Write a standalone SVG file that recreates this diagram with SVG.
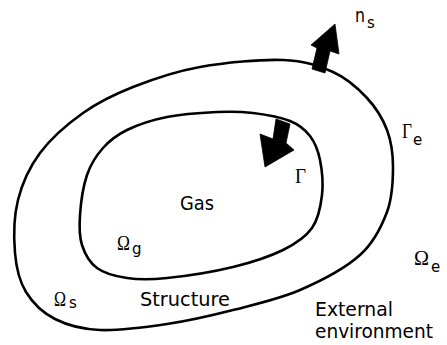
<svg xmlns="http://www.w3.org/2000/svg" width="447" height="345" viewBox="0 0 447 345">
<style>
.curve{fill:none;stroke:#000;stroke-width:2.6;stroke-linejoin:round}
.arrow{fill:#000;stroke:#000;stroke-width:0.8;stroke-linejoin:miter}
.t{font-family:"DejaVu Sans","Liberation Sans",sans-serif;font-size:20px;fill:#000}
.g{font-family:"Liberation Serif","Times New Roman",serif;font-size:21px;fill:#000}
.sub{font-family:"DejaVu Sans","Liberation Sans",sans-serif;font-size:15px;fill:#000}
</style>
<rect width="447" height="345" fill="#fff"/>
<g id="outer-boundary">
<path class="curve" d="M283,60 C305.2,60.8 319,65.7 333,72 C347,78.3 358,88.3 367,98 C376,107.7 382.7,118.5 387,130 C391.3,141.5 393,153.3 393,167 C393,180.7 392.5,197.3 387,212 C381.5,226.7 374.5,242 360,255 C345.5,268 321.2,280.8 300,290 C278.8,299.2 255.2,304.3 233,310 C210.8,315.7 189.2,320.7 167,324 C144.8,327.3 118.7,330.8 100,330 C81.3,329.2 67.3,325.3 55,319 C42.7,312.7 32.7,303 26,292 C19.3,281 16.3,268.3 15,253 C13.7,237.7 13.8,216.7 18,200 C22.2,183.3 29.2,167.5 40,153 C50.8,138.5 67.5,124 83,113 C98.5,102 113.5,94.7 133,87 C152.5,79.3 175,71.5 200,67 C225,62.5 260.8,59.2 283,60 Z"/>
</g>
<g id="inner-boundary">
<path class="curve" d="M253,113 C265.2,114.5 280.5,117.2 290,121 C299.5,124.8 305,129.5 310,136 C315,142.5 318,150.2 320,160 C322,169.8 323.3,183.7 322,195 C320.7,206.3 318.5,218.8 312,228 C305.5,237.2 296.2,243.5 283,250 C269.8,256.5 252.3,262.3 233,267 C213.7,271.7 184.7,276.2 167,278 C149.3,279.8 138.7,279.7 127,278 C115.3,276.3 104.5,273.5 97,268 C89.5,262.5 84.8,253.8 82,245 C79.2,236.2 79.2,226.7 80,215 C80.8,203.3 83.2,186.2 87,175 C90.8,163.8 96.3,155.5 103,148 C109.7,140.5 116.3,135.2 127,130 C137.7,124.8 152,120 167,117 C182,114 202.7,112.7 217,112 C231.3,111.3 240.8,111.5 253,113 Z"/>
</g>
<g id="connectors">
<polygon id="normal-ns" class="arrow" points="312,69 317,48 311,45 335,24 339,54 330,51 325,73"/>
<polygon id="normal-inner" class="arrow" points="276,119 290,124 286,143 294,150 265,167 260,134 273,139"/>
</g>
<g id="labels">
<text class="t" x="355" y="22" font-size="17" textLength="10" lengthAdjust="spacingAndGlyphs">n</text><text class="sub" x="367" y="28">s</text>
<text class="g" x="402" y="138" font-size="19" textLength="10" lengthAdjust="spacingAndGlyphs">Γ</text><text class="sub" x="413" y="145">e</text>
<text class="g" x="295" y="183" font-size="19" textLength="11" lengthAdjust="spacingAndGlyphs">Γ</text>
<text class="t" x="180" y="210" textLength="34" lengthAdjust="spacingAndGlyphs">Gas</text>
<text class="g" x="117" y="250" textLength="13" lengthAdjust="spacingAndGlyphs">Ω</text><text class="sub" x="132" y="254">g</text>
<text class="g" x="54" y="306" textLength="12" lengthAdjust="spacingAndGlyphs">Ω</text><text class="sub" x="69" y="308">s</text>
<text class="t" x="140" y="306" textLength="90" lengthAdjust="spacingAndGlyphs">Structure</text>
<text class="g" x="414" y="265" textLength="15" lengthAdjust="spacingAndGlyphs">Ω</text><text class="sub" x="431" y="272">e</text>
<text class="t" x="315" y="316" font-size="18.5" textLength="78" lengthAdjust="spacingAndGlyphs">External</text>
<text class="t" x="315" y="338" font-size="18.5" textLength="118" lengthAdjust="spacingAndGlyphs">environment</text>
</g>
</svg>
